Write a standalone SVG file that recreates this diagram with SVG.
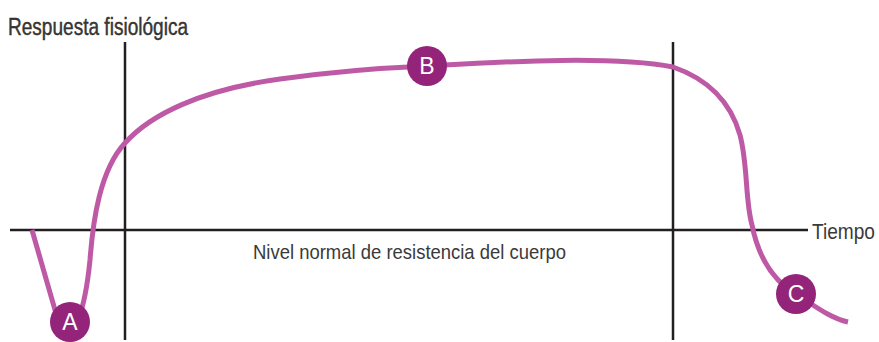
<svg xmlns="http://www.w3.org/2000/svg" width="879" height="342" viewBox="0 0 879 342">
<style>
.axis{stroke:#231f20;stroke-width:2.5;fill:none}
.curve{stroke:#be5aa5;stroke-width:5;fill:none;stroke-linecap:butt}
.dot{fill:#93247a}
.lbl{fill:#ffffff;font-family:"Liberation Sans",Arial,sans-serif;font-size:23px;text-anchor:middle}
.txt{fill:#3a3a3a;font-family:"Liberation Sans Narrow","Liberation Sans",Arial,sans-serif}
</style>
<rect width="879" height="342" fill="#ffffff"/>
<g id="axes">
<line class="axis" x1="10" y1="230" x2="808" y2="230"/>
<line class="axis" x1="125" y1="42" x2="125" y2="340"/>
<line class="axis" x1="673" y1="42" x2="673" y2="340"/>
</g>
<g id="connectors">
<path class="curve" d="M32,230 L55,310 Q66,338 78,320 Q86,300 90,260 C93,220 100,170 125,143 C150,115 200,90 280,79 C330,72 380,68 427,66 C500,62 610,55 673,67 C705,78 730,100 740,135 C748,165 745,200 752,225 C758,255 772,280 796,294 C815,306 830,318 848,322"/>
</g>
<g id="title"><text class="txt" x="8" y="35" font-size="23" textLength="180" lengthAdjust="spacingAndGlyphs" fill="#231f20" stroke="#231f20" stroke-width="0.4">Respuesta fisiológica</text></g>
<g id="tiempo"><text class="txt" x="875" y="239" font-size="22" text-anchor="end" textLength="63" lengthAdjust="spacingAndGlyphs">Tiempo</text></g>
<g id="nivel"><text class="txt" x="253" y="259" font-size="21" textLength="313" lengthAdjust="spacingAndGlyphs">Nivel normal de resistencia del cuerpo</text></g>
<g id="nodeA"><circle class="dot" cx="70" cy="322" r="20"/><text class="lbl" x="70" y="330">A</text></g>
<g id="nodeB"><circle class="dot" cx="427" cy="66" r="20"/><text class="lbl" x="427" y="74">B</text></g>
<g id="nodeC"><circle class="dot" cx="796" cy="294" r="20"/><text class="lbl" x="796" y="302">C</text></g>
</svg>
